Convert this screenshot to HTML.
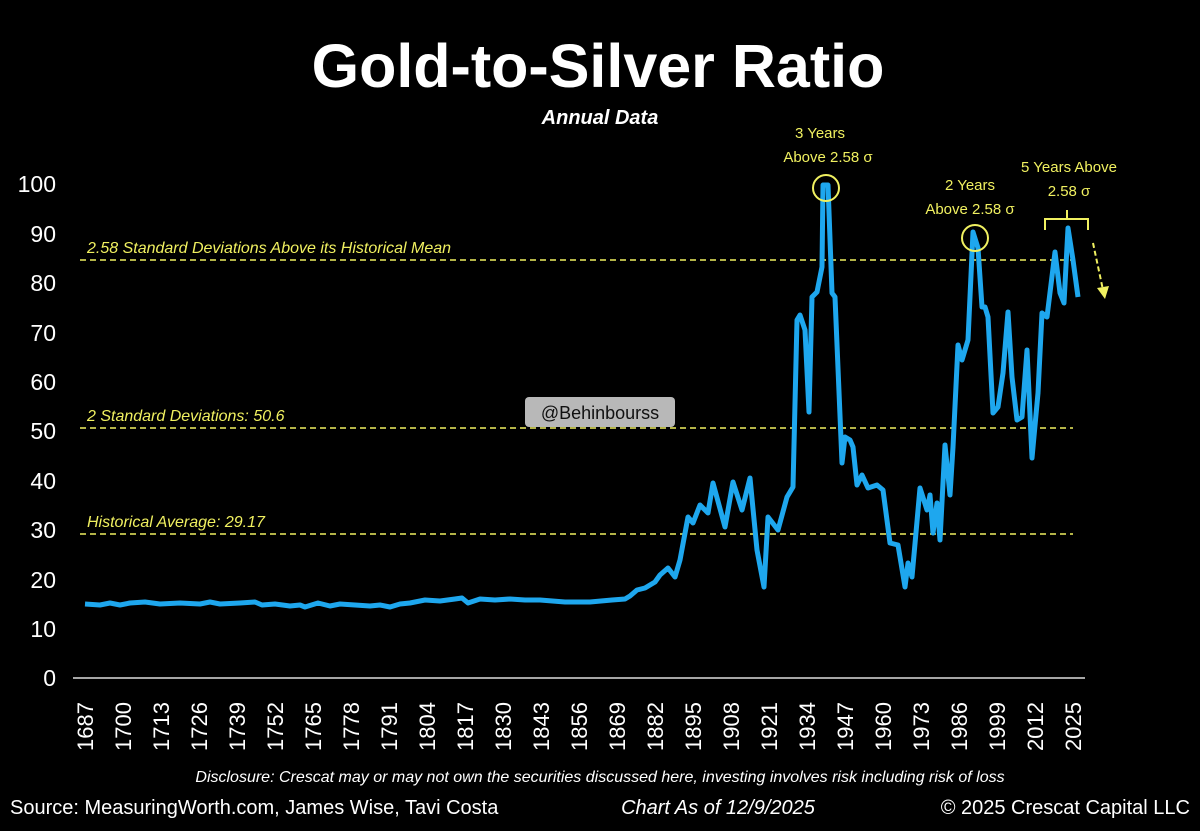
<!DOCTYPE html>
<html><head><meta charset="utf-8"><style>
html,body{margin:0;padding:0;background:#000;}
body{width:1200px;height:826px;overflow:hidden;}
</style></head><body>
<svg width="1200" height="826" xmlns="http://www.w3.org/2000/svg" font-family="Liberation Sans, sans-serif">
<rect width="1200" height="826" fill="#000"/>
<text x="598" y="87" text-anchor="middle" fill="#fff" font-size="61" font-weight="bold">Gold-to-Silver Ratio</text>
<text x="600" y="124" text-anchor="middle" fill="#fff" font-size="20" font-weight="bold" font-style="italic">Annual Data</text>
<g fill="#fff" font-size="23" text-anchor="end">
<text x="56" y="192">100</text><text x="56" y="242">90</text><text x="56" y="291">80</text><text x="56" y="341">70</text><text x="56" y="390">60</text><text x="56" y="439">50</text><text x="56" y="489">40</text><text x="56" y="538">30</text><text x="56" y="588">20</text><text x="56" y="637">10</text><text x="56" y="686">0</text>
</g>
<line x1="73" y1="678" x2="1085" y2="678" stroke="#ddd" stroke-width="1.5"/>
<g stroke="#f0f060" stroke-width="1.6" stroke-dasharray="6,4">
<line x1="80" y1="260" x2="1073" y2="260"/><line x1="80" y1="428" x2="1073" y2="428"/><line x1="80" y1="534" x2="1073" y2="534"/>
</g>
<g fill="#f0f060" font-size="16" font-style="italic">
<text x="87" y="253">2.58 Standard Deviations Above its Historical Mean</text>
<text x="87" y="421">2 Standard Deviations: 50.6</text>
<text x="87" y="527">Historical Average: 29.17</text>
</g>
<g fill="#f0f060" font-size="15" text-anchor="middle">
<text x="820" y="138">3 Years</text><text x="828" y="162">Above 2.58 σ</text>
<text x="970" y="190">2 Years</text><text x="970" y="214">Above 2.58 σ</text>
<text x="1069" y="172">5 Years Above</text><text x="1069" y="196">2.58 σ</text>
</g>
<rect x="525" y="397" width="150" height="30" rx="4" fill="#d8d8d8" opacity="0.85"/>
<text x="600" y="419" text-anchor="middle" fill="#111" font-size="18">@Behinbourss</text>
<polyline fill="none" stroke="#1ea7ee" stroke-width="5" stroke-linejoin="round" points="85,604 100,605 110,603 120,605 130,603 145,602 160,604 180,603 200,604 210,602 220,604 240,603 255,602 262,605 275,604 290,606 300,605 305,607 318,603 330,606 340,604 355,605 370,606 380,605 390,607 400,604 410,603 425,600 440,601 455,599 462,598 468,603 480,599 495,600 510,599 525,600 540,600 565,602 590,602 612,600 625,599 630,596 637,590 645,588 655,582 660,575 668,568 675,577 680,560 688,517 693,523 700,505 708,513 713,483 725,527 733,482 742,510 750,478 757,550 764,587 768,517 778,530 787,497 793,487 797,320 800,315 805,330 809,412 812,297 817,292 822,267 823,185 828,185 832,293 835,297 842,463 845,437 850,440 853,447 857,485 862,475 868,488 877,485 883,490 890,543 898,545 905,587 908,563 912,577 920,488 927,510 930,495 933,533 937,503 940,540 945,445 950,495 953,447 958,345 962,360 968,340 973,232 978,248 982,307 985,307 988,317 993,413 998,407 1003,373 1008,312 1012,377 1017,420 1022,417 1027,350 1032,458 1038,393 1042,313 1047,317 1055,252 1060,293 1064,303 1068,228 1073,260 1078,297"/>
<g fill="none" stroke="#f0f060" stroke-width="2">
<circle cx="826" cy="188" r="13"/><circle cx="975" cy="238" r="13"/>
<polyline points="1045,230 1045,219 1088,219 1088,230"/><line x1="1067" y1="219" x2="1067" y2="210"/>
<line x1="1093" y1="243" x2="1103" y2="290" stroke-dasharray="5,3"/>
</g>
<polygon points="1097,288 1109,286 1105,299" fill="#f0f060"/>
<text x="600" y="782" text-anchor="middle" fill="#fff" font-size="16" font-style="italic">Disclosure: Crescat may or may not own the securities discussed here, investing involves risk including risk of loss</text>
<text x="10" y="814" fill="#fff" font-size="20">Source: MeasuringWorth.com, James Wise, Tavi Costa</text>
<text x="718" y="814" text-anchor="middle" fill="#fff" font-size="20" font-style="italic">Chart As of 12/9/2025</text>
<text x="1190" y="814" text-anchor="end" fill="#fff" font-size="20">© 2025 Crescat Capital LLC</text>
<g fill="#fff" font-size="22">
<text transform="translate(93,751) rotate(-90)">1687</text>
<text transform="translate(131,751) rotate(-90)">1700</text>
<text transform="translate(169,751) rotate(-90)">1713</text>
<text transform="translate(207,751) rotate(-90)">1726</text>
<text transform="translate(245,751) rotate(-90)">1739</text>
<text transform="translate(283,751) rotate(-90)">1752</text>
<text transform="translate(321,751) rotate(-90)">1765</text>
<text transform="translate(359,751) rotate(-90)">1778</text>
<text transform="translate(397,751) rotate(-90)">1791</text>
<text transform="translate(435,751) rotate(-90)">1804</text>
<text transform="translate(473,751) rotate(-90)">1817</text>
<text transform="translate(511,751) rotate(-90)">1830</text>
<text transform="translate(549,751) rotate(-90)">1843</text>
<text transform="translate(587,751) rotate(-90)">1856</text>
<text transform="translate(625,751) rotate(-90)">1869</text>
<text transform="translate(663,751) rotate(-90)">1882</text>
<text transform="translate(701,751) rotate(-90)">1895</text>
<text transform="translate(739,751) rotate(-90)">1908</text>
<text transform="translate(777,751) rotate(-90)">1921</text>
<text transform="translate(815,751) rotate(-90)">1934</text>
<text transform="translate(853,751) rotate(-90)">1947</text>
<text transform="translate(891,751) rotate(-90)">1960</text>
<text transform="translate(929,751) rotate(-90)">1973</text>
<text transform="translate(967,751) rotate(-90)">1986</text>
<text transform="translate(1005,751) rotate(-90)">1999</text>
<text transform="translate(1043,751) rotate(-90)">2012</text>
<text transform="translate(1081,751) rotate(-90)">2025</text>
</g>
</svg>
</body></html>
